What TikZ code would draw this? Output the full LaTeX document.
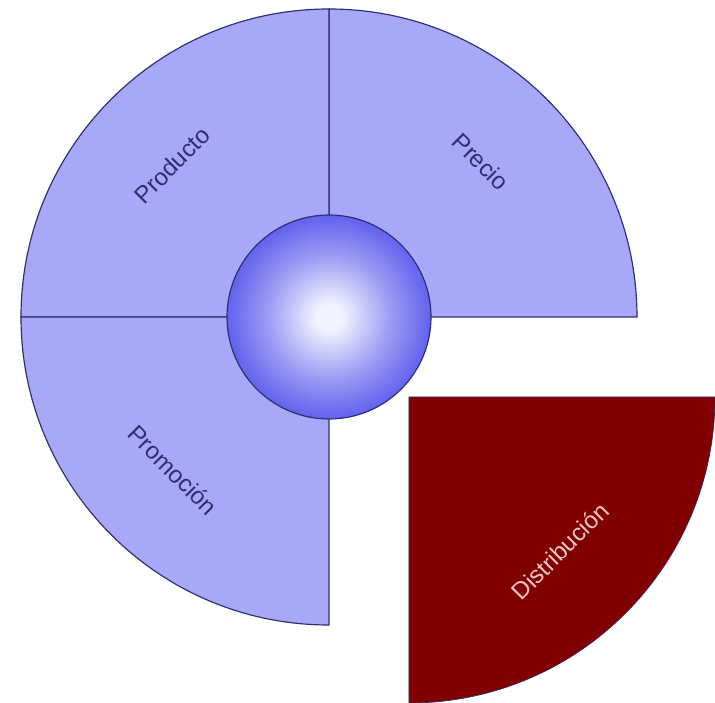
\documentclass[tikz,border=0pt]{standalone}
\usepackage{fontspec}
\setmainfont{Liberation Sans}
\usepackage{tikz}
\definecolor{lilac}{HTML}{A8A8F8}
\definecolor{navy}{HTML}{2E2E72}
\definecolor{maroon}{HTML}{800000}
\definecolor{blush}{HTML}{F2C4C4}
\definecolor{hubcore}{HTML}{F4F4FF}
\definecolor{hubmid}{HTML}{9C9CF4}
\definecolor{hubedge}{HTML}{4A4AEC}
\pgfdeclareradialshading{hubshade}{\pgfpoint{0bp}{0bp}}{color(0bp)=(hubcore); color(3bp)=(hubcore); color(15bp)=(hubmid); color(29bp)=(hubedge); color(50bp)=(hubedge)}

\begin{document}
\begin{tikzpicture}[x=0.03cm,y=0.03cm,
  sector/.style={fill=lilac,draw=navy,line width=1pt},
  seclabel/.style={font=\fontsize{20.5}{24}\selectfont,text=navy,inner sep=0pt}]
\useasboundingbox (-329,-386) rectangle (386,317);
\fill[white] (-329,-386) rectangle (386,317);
% three quarters round the hub
\draw[sector] (0,0) -- (308,0) arc[start angle=0,end angle=90,radius=308] -- cycle;
\draw[sector] (0,0) -- (0,308) arc[start angle=90,end angle=180,radius=308] -- cycle;
\draw[sector] (0,0) -- (-308,0) arc[start angle=180,end angle=270,radius=308] -- cycle;
% the quarter pulled out
\draw[fill=maroon,draw=navy,line width=0.6pt] (80,-80) -- (386,-80) arc[start angle=0,end angle=-90,radius=306] -- cycle;
\node[circle,minimum size=6.12cm,inner sep=0pt,draw=navy,line width=1pt,shading=hubshade] (hub) at (0,0) {};
\node[seclabel,rotate=45] (producto) at (-157,152) {Producto};
\node[seclabel,rotate=-45] (precio) at (152,155) {Precio};
\node[seclabel,rotate=-45] (promocion) at (-156,-153) {Promoción};
\node[seclabel,rotate=45,text=blush] (distribucion) at (231,-234) {Distribución};
\end{tikzpicture}
\end{document}
